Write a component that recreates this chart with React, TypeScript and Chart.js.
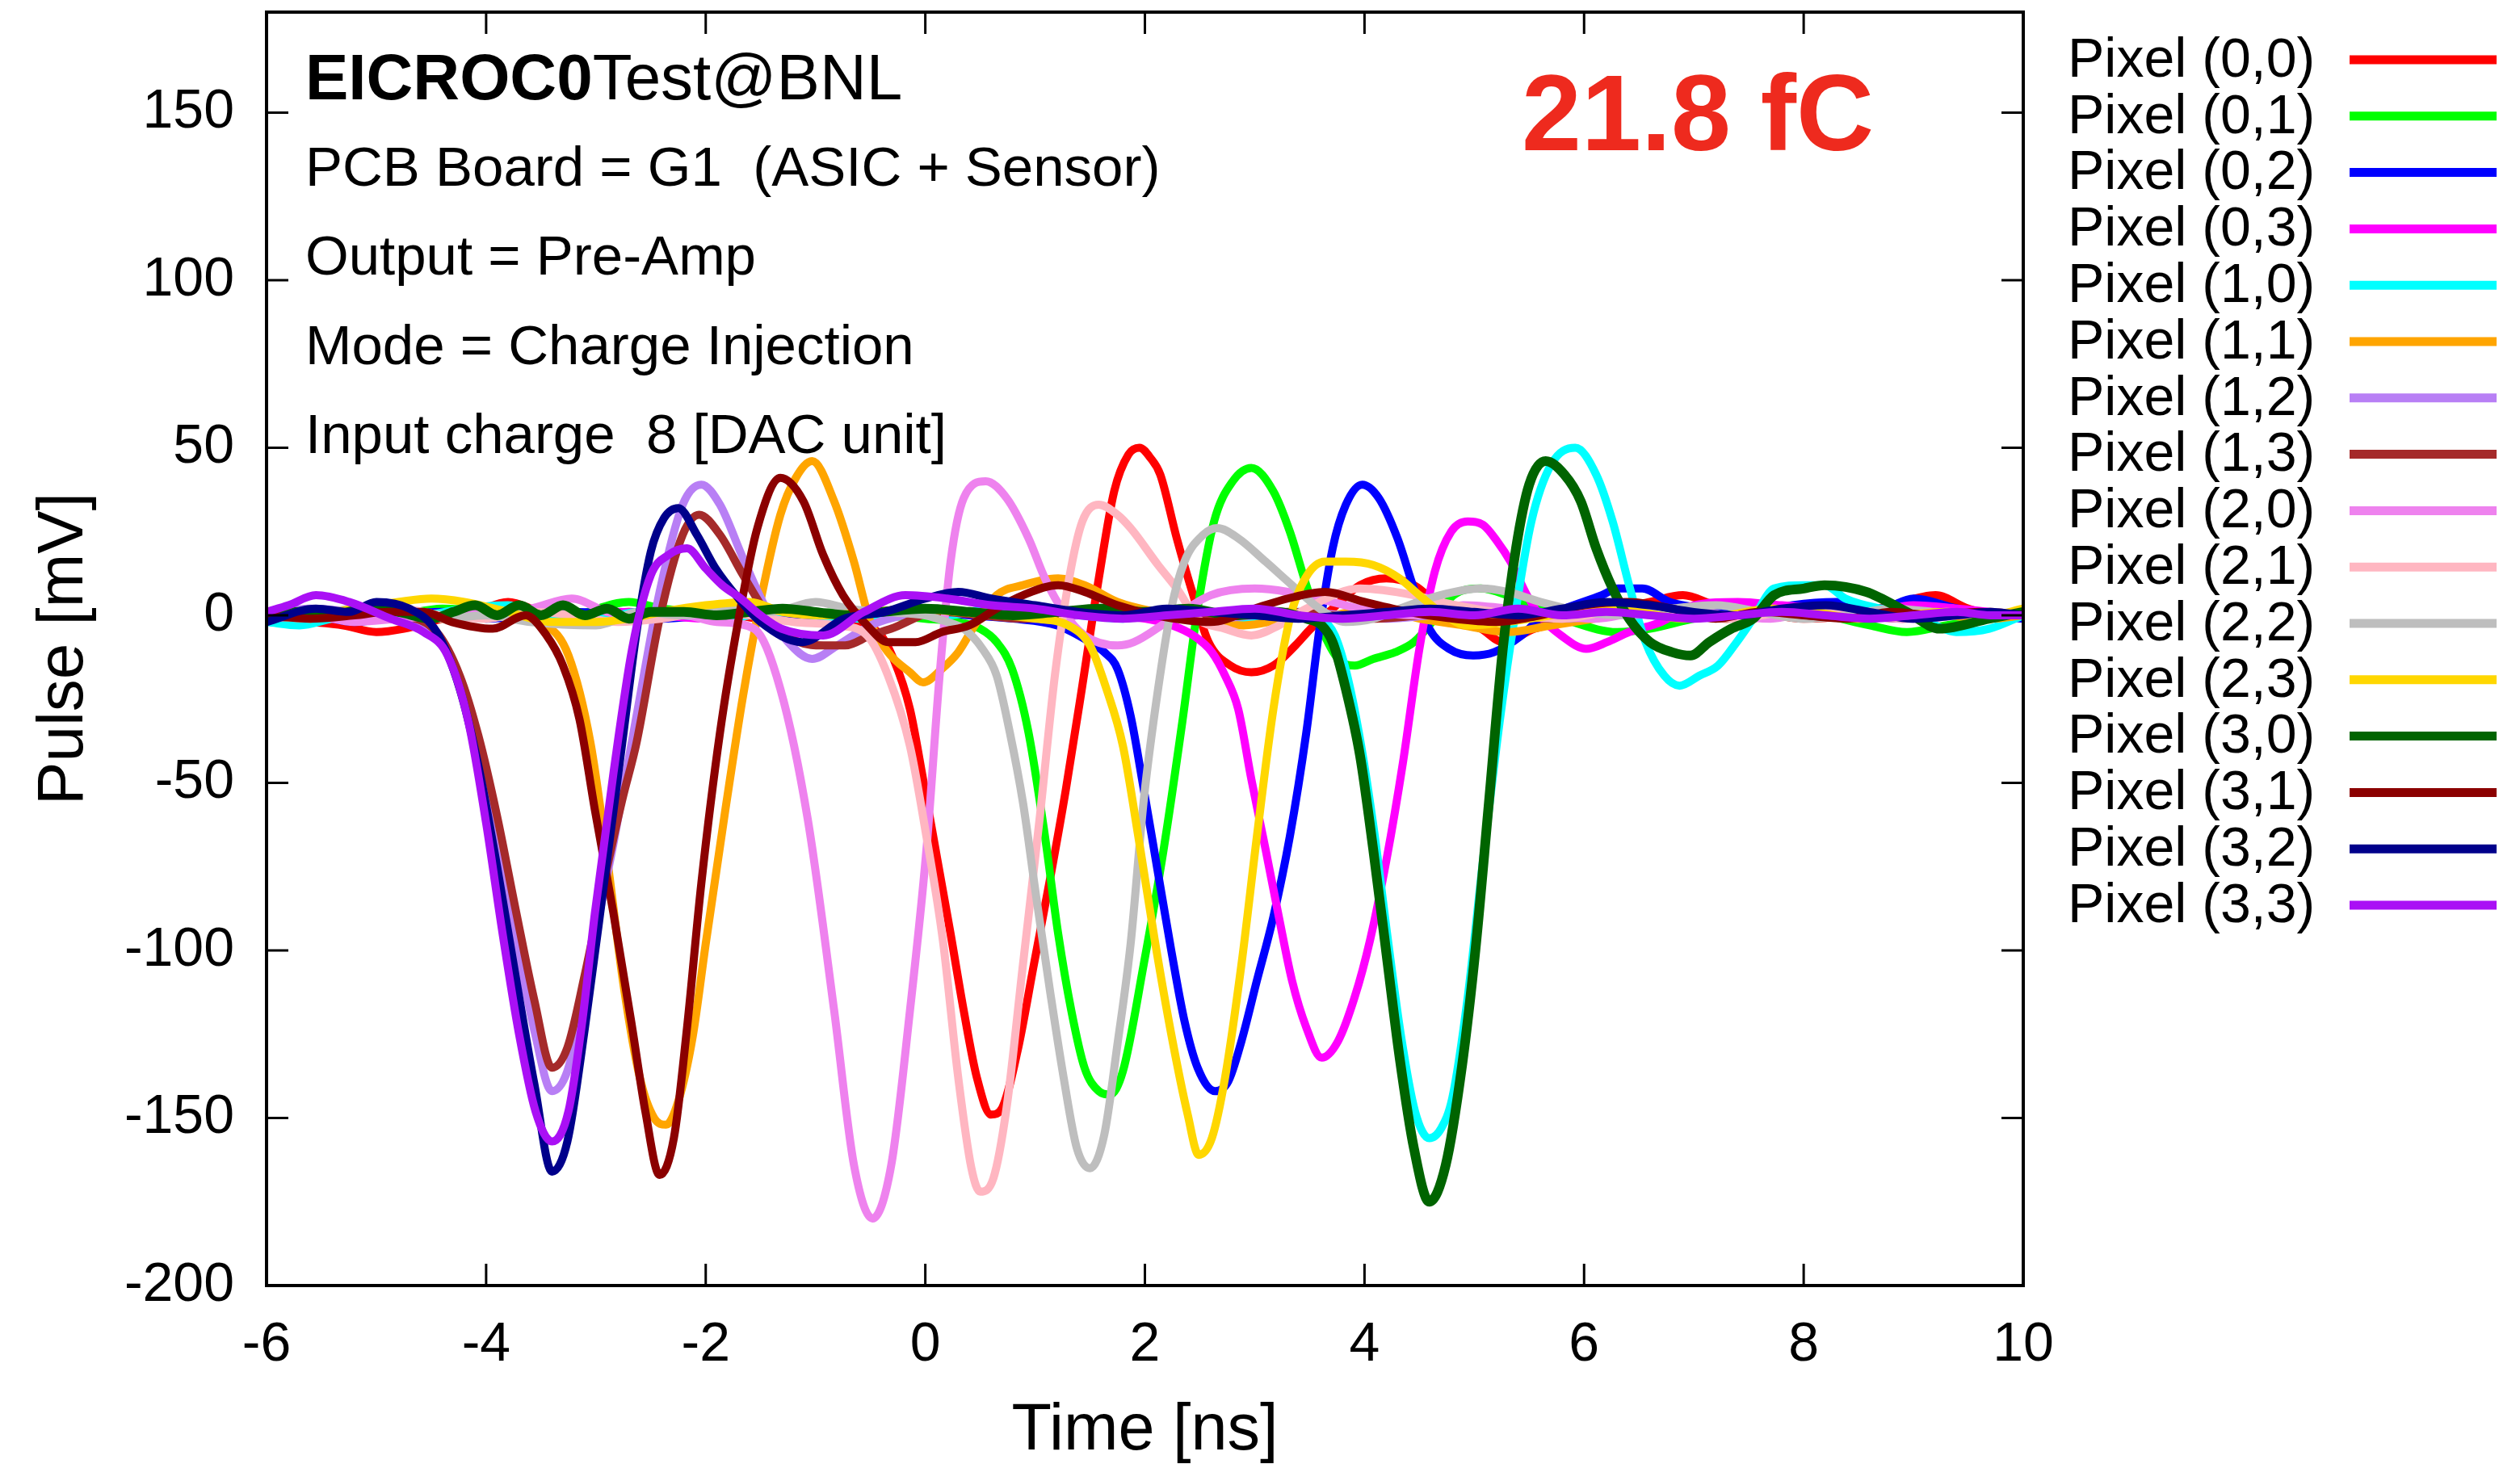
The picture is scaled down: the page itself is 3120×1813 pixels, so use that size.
import React, { useEffect, useRef } from 'react';
import { Chart, registerables } from 'chart.js';

Chart.register(...registerables);

const FONT = "'Liberation Sans', Arial, Helvetica, sans-serif";

// ---- Data -----------------------------------------------------------
const PIXEL_LABELS = [
  'Pixel (0,0)', 'Pixel (0,1)', 'Pixel (0,2)', 'Pixel (0,3)',
  'Pixel (1,0)', 'Pixel (1,1)', 'Pixel (1,2)', 'Pixel (1,3)',
  'Pixel (2,0)', 'Pixel (2,1)', 'Pixel (2,2)', 'Pixel (2,3)',
  'Pixel (3,0)', 'Pixel (3,1)', 'Pixel (3,2)', 'Pixel (3,3)',
];

const PIXEL_COLORS = [
  '#ff0000', '#00ff00', '#0000ff', '#ff00ff',
  '#00ffff', '#ffa500', '#b87ff5', '#a52a2a',
  '#ee82ee', '#ffb6c1', '#bebebe', '#ffd700',
  '#006400', '#8b0000', '#00008b', '#aa10f5',
];

const X_TICKS = [-6, -4, -2, 0, 2, 4, 6, 8, 10];
const Y_TICKS = [-200, -150, -100, -50, 0, 50, 100, 150];

// [time ns, pulse mV]
const P00 = [[-6,-1],[-5.6,-2],[-5.3,-3],[-5.0,-5],[-4.75,-4],[-4.4,-1],[-4.1,1],[-3.8,4],[-3.5,1],[-3.1,-1],[-2.7,1],[-2.3,0],[-1.9,1],[-1.5,-1],[-1.1,0],[-0.75,-2],[-0.43,-5],[-0.29,-13],[-0.14,-28],[-0.02,-49],[0.11,-73],[0.23,-95],[0.35,-118],[0.47,-138],[0.6,-149],[0.7,-147],[0.84,-130],[0.99,-104],[1.14,-78],[1.28,-52],[1.43,-21],[1.58,11],[1.72,37],[1.85,48],[1.95,50],[2.05,47],[2.14,42],[2.29,23],[2.44,6],[2.58,-8],[2.78,-15],[2.97,-17],[3.17,-15],[3.37,-9],[3.51,-4],[3.71,2],[3.96,9],[4.2,11],[4.45,9],[4.64,4],[4.81,-1],[5.06,-4],[5.26,-8],[5.55,-4],[5.92,-1],[6.3,2],[6.6,4],[6.9,6],[7.2,3],[7.6,1],[8.0,-1],[8.4,0],[8.8,3],[9.2,6],[9.5,2],[9.8,0],[10,1]];
const P01 = [[-6,0],[-5.6,1],[-5.2,-1],[-4.8,0],[-4.4,2],[-4.0,1],[-3.6,-1],[-3.2,0],[-2.7,4],[-2.4,2],[-2.0,1],[-1.6,0],[-1.2,-1],[-0.8,1],[-0.4,0],[0.0,-1],[0.3,-2],[0.5,-4],[0.65,-8],[0.79,-16],[0.94,-35],[1.09,-66],[1.21,-95],[1.33,-118],[1.45,-135],[1.58,-142],[1.68,-143],[1.8,-136],[1.99,-104],[2.17,-70],[2.34,-32],[2.48,2],[2.63,28],[2.8,40],[2.97,44],[3.17,37],[3.32,25],[3.47,9],[3.61,-4],[3.76,-13],[3.91,-15],[4.08,-13],[4.28,-11],[4.45,-8],[4.64,-1],[4.81,6],[5.06,8],[5.3,6],[5.6,2],[5.9,-2],[6.3,-5],[6.6,-4],[7.0,-1],[7.4,1],[7.8,2],[8.2,0],[8.6,-3],[8.94,-5],[9.3,-3],[9.7,-1],[10,0]];
const P02 = [[-6,-1],[-5.6,0],[-5.2,-2],[-4.8,0],[-4.4,1],[-4.0,-1],[-3.6,0],[-3.2,1],[-2.8,0],[-2.4,-1],[-2.0,0],[-1.6,1],[-1.2,0],[-0.8,-1],[-0.4,0],[0.0,1],[0.4,0],[0.8,-1],[1.2,-3],[1.5,-8],[1.63,-11],[1.75,-16],[1.87,-30],[1.99,-52],[2.12,-77],[2.24,-100],[2.36,-121],[2.48,-135],[2.64,-142],[2.76,-139],[2.88,-127],[3.02,-109],[3.17,-90],[3.32,-66],[3.47,-35],[3.59,-4],[3.71,20],[3.83,33],[3.98,39],[4.13,35],[4.3,23],[4.45,8],[4.59,-4],[4.77,-10],[4.99,-12],[5.18,-11],[5.43,-6],[5.6,-1],[5.82,2],[6.16,6],[6.31,8],[6.53,8],[6.78,4],[7.1,2],[7.5,0],[7.9,3],[8.3,4],[8.7,2],[9.0,5],[9.4,2],[9.7,0],[10,-1]];
const P03 = [[-6,0],[-5.6,1],[-5.2,0],[-4.8,-1],[-4.4,0],[-4.0,1],[-3.6,0],[-3.2,-1],[-2.8,1],[-2.4,0],[-2.0,-1],[-1.6,0],[-1.2,1],[-0.8,0],[-0.4,1],[0.0,2],[0.4,1],[0.8,0],[1.2,1],[1.6,0],[2.0,-1],[2.25,-3],[2.44,-6],[2.61,-11],[2.73,-18],[2.85,-28],[2.97,-49],[3.1,-70],[3.22,-90],[3.34,-109],[3.47,-123],[3.61,-132],[3.76,-127],[3.91,-114],[4.05,-97],[4.2,-73],[4.35,-44],[4.5,-10],[4.64,13],[4.79,25],[4.94,28],[5.08,27],[5.21,22],[5.33,16],[5.48,6],[5.62,-1],[5.79,-6],[6.02,-10],[6.21,-8],[6.41,-5],[6.7,-2],[7.0,3],[7.4,4],[7.8,3],[8.2,2],[8.6,1],[9.0,3],[9.4,2],[9.7,1],[10,0]];
const P10 = [[-6,-2],[-5.7,-3],[-5.4,-1],[-5.0,1],[-4.6,0],[-4.2,2],[-3.8,3],[-3.4,0],[-3.0,-1],[-2.6,1],[-2.2,0],[-1.8,-1],[-1.4,1],[-1.0,0],[-0.6,-1],[-0.2,1],[0.2,0],[0.6,2],[1.0,1],[1.4,0],[1.8,-1],[2.2,1],[2.6,0],[3.0,-1],[3.4,1],[3.6,-1],[3.73,-6],[3.85,-19],[3.97,-39],[4.09,-65],[4.21,-96],[4.33,-125],[4.46,-148],[4.59,-156],[4.7,-153],[4.8,-144],[4.94,-114],[5.08,-73],[5.23,-32],[5.38,2],[5.52,28],[5.7,45],[5.92,50],[6.11,42],[6.26,28],[6.41,9],[6.56,-8],[6.73,-18],[6.87,-21],[7.05,-18],[7.22,-15],[7.39,-8],[7.54,-1],[7.73,8],[8.0,9],[8.19,9],[8.38,5],[8.7,2],[8.94,1],[9.2,-3],[9.39,-5],[9.69,-4],[10,0]];
const P11 = [[-6,0],[-5.6,-1],[-5.2,1],[-4.8,0],[-4.4,-1],[-4.0,0],[-3.7,-1],[-3.45,-3],[-3.25,-12],[-3.05,-38],[-2.9,-72],[-2.75,-110],[-2.6,-138],[-2.47,-150],[-2.36,-152],[-2.25,-145],[-2.12,-126],[-2.0,-98],[-1.83,-60],[-1.66,-24],[-1.49,6],[-1.32,30],[-1.18,41],[-1.03,46],[-0.83,34],[-0.65,16],[-0.51,-1],[-0.34,-11],[-0.14,-17],[-0.02,-20],[0.15,-16],[0.3,-11],[0.45,-3],[0.65,6],[0.89,9],[1.21,11],[1.45,9],[1.75,4],[2.1,1],[2.5,-1],[2.9,-3],[3.3,-1],[3.7,0],[4.1,2],[4.5,-1],[4.9,-3],[5.3,-5],[5.7,-3],[6.1,-1],[6.5,1],[6.9,0],[7.3,-1],[7.7,1],[8.1,0],[8.5,-1],[8.9,1],[9.3,0],[9.7,-1],[10,0]];
const P12 = [[-6,0],[-5.6,2],[-5.2,1],[-4.8,-1],[-4.45,-6],[-4.24,-21],[-4.07,-40],[-3.9,-66],[-3.73,-96],[-3.56,-124],[-3.4,-142],[-3.26,-136],[-3.1,-113],[-2.95,-86],[-2.84,-68],[-2.63,-30],[-2.42,7],[-2.21,33],[-2.04,39],[-1.87,33],[-1.66,17],[-1.45,2],[-1.25,-8],[-1.03,-13],[-0.8,-9],[-0.5,-3],[-0.2,0],[0.2,1],[0.6,0],[1.0,-1],[1.4,0],[1.8,1],[2.2,0],[2.6,-1],[3.0,0],[3.4,1],[3.8,0],[4.2,-1],[4.6,0],[5.0,1],[5.4,0],[5.8,-1],[6.2,0],[6.6,1],[7.0,0],[7.4,-1],[7.8,0],[8.2,1],[8.6,0],[9.0,-1],[9.4,0],[9.7,1],[10,0]];
const P13 = [[-6,-1],[-5.6,0],[-5.2,1],[-4.8,0],[-4.45,-5],[-4.24,-18],[-4.07,-36],[-3.9,-60],[-3.73,-88],[-3.56,-115],[-3.4,-135],[-3.26,-129],[-3.1,-107],[-2.93,-80],[-2.76,-55],[-2.63,-38],[-2.42,-1],[-2.21,24],[-2.06,30],[-1.87,24],[-1.66,12],[-1.41,-1],[-1.15,-8],[-0.93,-9],[-0.73,-9],[-0.5,-6],[-0.31,-4],[0.11,1],[0.5,0],[0.9,-1],[1.3,0],[1.7,1],[2.1,0],[2.5,-1],[2.9,0],[3.3,1],[3.7,0],[4.1,-1],[4.5,0],[4.9,1],[5.3,0],[5.7,-1],[6.1,0],[6.5,1],[6.9,0],[7.3,-1],[7.7,0],[8.1,1],[8.5,0],[8.9,-1],[9.3,0],[9.7,1],[10,0]];
const P20 = [[-6,-1],[-5.6,0],[-5.2,-2],[-4.8,-1],[-4.4,0],[-4.0,1],[-3.6,2],[-3.22,5],[-2.9,1],[-2.6,-1],[-2.2,0],[-1.9,-2],[-1.56,-4],[-1.32,-22],[-1.07,-61],[-0.83,-118],[-0.65,-164],[-0.48,-180],[-0.31,-164],[-0.14,-118],[0.01,-70],[0.13,-18],[0.23,16],[0.35,35],[0.55,40],[0.74,35],[0.94,23],[1.09,11],[1.26,1],[1.45,-6],[1.75,-9],[1.9,-8],[2.2,-2],[2.6,6],[3.0,8],[3.3,7],[3.7,4],[4.1,1],[4.5,0],[4.9,3],[5.3,2],[5.7,0],[6.1,-1],[6.5,1],[6.9,2],[7.3,0],[7.7,-1],[8.1,1],[8.5,0],[8.9,-1],[9.3,1],[9.7,0],[10,1]];
const P21 = [[-6,0],[-5.6,-1],[-5.2,1],[-4.8,2],[-4.4,0],[-4.0,-1],[-3.6,1],[-3.2,0],[-2.8,-2],[-2.4,-1],[-2.0,1],[-1.6,0],[-1.2,-2],[-0.8,-3],[-0.53,-6],[-0.34,-18],[-0.14,-39],[0.01,-66],[0.16,-97],[0.3,-138],[0.42,-165],[0.5,-172],[0.62,-168],[0.74,-147],[0.89,-104],[1.04,-61],[1.18,-18],[1.31,11],[1.43,28],[1.58,33],[1.75,30],[1.87,26],[2.12,15],[2.29,8],[2.48,-1],[2.73,-4],[2.97,-6],[3.22,-3],[3.47,2],[3.96,8],[4.45,6],[4.69,4],[5.0,2],[5.4,0],[5.8,-1],[6.2,1],[6.6,2],[7.0,0],[7.4,-1],[7.8,1],[8.2,2],[8.6,0],[9.0,-1],[9.4,0],[9.7,1],[10,0]];
const P22 = [[-6,1],[-5.6,0],[-5.2,2],[-4.8,1],[-4.4,-1],[-4.0,0],[-3.6,-2],[-3.0,-3],[-2.6,1],[-2.2,0],[-1.8,2],[-1.4,1],[-1.0,4],[-0.7,2],[-0.4,1],[0.0,0],[0.2,-2],[0.35,-4],[0.52,-10],[0.65,-18],[0.77,-35],[0.89,-56],[1.01,-84],[1.14,-113],[1.26,-138],[1.38,-159],[1.5,-165],[1.63,-155],[1.75,-128],[1.87,-98],[1.99,-55],[2.12,-22],[2.24,2],[2.36,16],[2.53,24],[2.66,26],[2.85,23],[3.1,16],[3.34,9],[3.59,2],[3.83,-2],[4.08,-1],[4.32,2],[4.69,6],[5.06,8],[5.3,7],[5.6,4],[6.0,1],[6.4,0],[6.8,2],[7.2,3],[7.6,1],[8.0,-1],[8.4,0],[8.8,2],[9.2,1],[9.6,0],[10,1]];
const P23 = [[-6,1],[-5.6,0],[-5.2,2],[-4.8,4],[-4.5,5],[-4.2,4],[-3.8,1],[-3.4,-2],[-3.0,-2],[-2.7,-1],[-2.4,1],[-2.0,3],[-1.6,4],[-1.3,1],[-0.9,0],[-0.5,1],[-0.1,2],[0.3,1],[0.7,0],[1.0,-1],[1.3,-3],[1.5,-9],[1.65,-22],[1.8,-39],[1.94,-66],[2.09,-97],[2.24,-125],[2.39,-149],[2.49,-161],[2.61,-156],[2.73,-138],[2.88,-104],[3.02,-66],[3.17,-28],[3.32,-1],[3.46,11],[3.64,16],[3.83,16],[4.08,15],[4.32,11],[4.5,6],[4.69,1],[4.94,-3],[5.3,-2],[5.7,0],[6.1,2],[6.5,1],[6.9,-1],[7.3,0],[7.7,2],[8.1,1],[8.5,-1],[8.9,0],[9.3,1],[9.7,0],[10,2]];
const P30 = [[-6,-1],[-5.7,1],[-5.4,0],[-5.1,2],[-4.8,1],[-4.5,-1],[-4.3,1],[-4.1,3],[-3.9,0],[-3.7,3],[-3.5,0],[-3.3,3],[-3.1,0],[-2.9,2],[-2.7,-1],[-2.5,1],[-2.2,1],[-1.9,0],[-1.6,1],[-1.3,2],[-1.0,1],[-0.7,0],[-0.4,1],[0.0,2],[0.4,1],[0.8,0],[1.2,1],[1.6,2],[2.0,1],[2.4,2],[2.8,0],[3.2,1],[3.47,-1],[3.61,-3],[3.71,-8],[3.83,-22],[3.96,-42],[4.08,-70],[4.2,-101],[4.32,-132],[4.45,-159],[4.59,-175],[4.74,-164],[4.89,-134],[5.01,-100],[5.13,-57],[5.26,-10],[5.38,20],[5.5,39],[5.65,46],[5.82,42],[5.97,34],[6.11,20],[6.26,8],[6.41,-1],[6.6,-8],[6.8,-11],[6.97,-12],[7.14,-8],[7.34,-4],[7.54,-1],[7.73,6],[8.0,8],[8.19,9],[8.57,7],[8.94,1],[9.24,-4],[9.69,-1],[10,1]];
const P31 = [[-6,0],[-5.6,-1],[-5.2,0],[-4.9,1],[-4.57,1],[-4.31,-2],[-3.94,-4],[-3.64,0],[-3.45,-6],[-3.3,-15],[-3.15,-31],[-3.01,-58],[-2.84,-89],[-2.67,-123],[-2.55,-148],[-2.42,-167],[-2.29,-156],[-2.17,-123],[-2.04,-80],[-1.87,-35],[-1.7,-1],[-1.53,26],[-1.32,41],[-1.11,34],[-0.93,18],[-0.75,6],[-0.53,-3],[-0.34,-8],[-0.09,-8],[0.15,-5],[0.4,-3],[0.65,2],[0.89,6],[1.21,9],[1.45,7],[1.75,3],[2.1,0],[2.6,-2],[3.0,2],[3.3,5],[3.64,7],[4.0,4],[4.4,1],[4.8,-1],[5.2,-2],[5.6,0],[6.0,3],[6.4,4],[6.8,2],[7.2,-1],[7.6,1],[8.0,0],[8.4,-1],[8.8,1],[9.2,0],[9.6,1],[10,0]];
const P32 = [[-6,-2],[-5.55,2],[-5.25,1],[-5.0,4],[-4.7,2],[-4.45,-5],[-4.24,-22],[-4.07,-45],[-3.9,-75],[-3.73,-108],[-3.56,-140],[-3.4,-166],[-3.26,-157],[-3.1,-123],[-2.93,-81],[-2.76,-38],[-2.63,-5],[-2.5,19],[-2.38,29],[-2.25,32],[-2.08,24],[-1.91,14],[-1.7,5],[-1.5,-2],[-1.12,-8],[-0.74,-1],[-0.37,1],[0.0,5],[0.3,7],[0.6,5],[1.0,3],[1.4,1],[1.8,0],[2.2,2],[2.6,1],[3.0,0],[3.4,-1],[3.8,0],[4.2,1],[4.6,2],[5.0,1],[5.4,0],[5.8,2],[6.2,4],[6.6,3],[7.0,1],[7.4,0],[7.8,2],[8.2,3],[8.6,1],[9.0,-1],[9.4,0],[9.7,1],[10,0]];
const P33 = [[-6,1],[-5.8,3],[-5.55,6],[-5.25,4],[-4.87,-1],[-4.57,-5],[-4.35,-12],[-4.16,-32],[-4.0,-62],[-3.85,-95],[-3.7,-125],[-3.55,-148],[-3.4,-157],[-3.25,-148],[-3.12,-120],[-3.01,-89],[-2.84,-47],[-2.67,-10],[-2.5,12],[-2.34,18],[-2.17,20],[-2.0,14],[-1.85,9],[-1.68,5],[-1.5,0],[-1.31,-4],[-0.93,-6],[-0.56,1],[-0.18,6],[0.2,5],[0.6,3],[1.0,2],[1.4,0],[1.8,-1],[2.2,0],[2.6,1],[3.0,2],[3.4,0],[3.8,-1],[4.2,0],[4.6,1],[5.0,0],[5.4,2],[5.8,0],[6.2,1],[6.6,0],[7.0,-1],[7.4,0],[7.8,1],[8.2,0],[8.6,-1],[9.0,0],[9.4,1],[9.7,0],[10,0]];

const SERIES = [P00, P01, P02, P03, P10, P11, P12, P13, P20, P21, P22, P23, P30, P31, P32, P33];

const INFO_TITLE_BOLD = 'EICROC0';
const INFO_TITLE_REST = 'Test@BNL';
const INFO_LINES = [
  'PCB Board = G1  (ASIC + Sensor)',
  'Output = Pre-Amp',
  'Mode = Charge Injection',
  'Input charge  8 [DAC unit]',
];
const CHARGE_LABEL = '21.8 fC';

// ---- Plugins ---------------------------------------------------------
const framePlugin = {
  id: 'frameTicks',
  afterDatasetsDraw(chart: any) {
    const { ctx, chartArea: a, scales } = chart;
    const xs = scales.x;
    const ys = scales.y;
    const TL = 27;
    ctx.save();
    ctx.strokeStyle = '#000';
    ctx.lineWidth = 3;
    ctx.beginPath();
    xs.ticks.forEach((t: any) => {
      const px = xs.getPixelForValue(t.value);
      ctx.moveTo(px, a.bottom);
      ctx.lineTo(px, a.bottom - TL);
      ctx.moveTo(px, a.top);
      ctx.lineTo(px, a.top + TL);
    });
    ys.ticks.forEach((t: any) => {
      const py = ys.getPixelForValue(t.value);
      ctx.moveTo(a.left, py);
      ctx.lineTo(a.left + TL, py);
      ctx.moveTo(a.right, py);
      ctx.lineTo(a.right - TL, py);
    });
    ctx.stroke();
    ctx.lineWidth = 4;
    ctx.strokeRect(a.left, a.top, a.right - a.left, a.bottom - a.top);
    ctx.restore();
  },
};

const textPlugin = {
  id: 'infoAndLegend',
  afterDraw(chart: any) {
    const { ctx, chartArea: a } = chart;
    ctx.save();
    ctx.fillStyle = '#000';
    ctx.textBaseline = 'alphabetic';
    ctx.textAlign = 'left';
    const x0 = a.left + 48;
    ctx.font = `bold 80px ${FONT}`;
    ctx.fillText(INFO_TITLE_BOLD, x0, a.top + 108);
    const w = ctx.measureText(INFO_TITLE_BOLD).width;
    ctx.font = `80px ${FONT}`;
    ctx.fillText(INFO_TITLE_REST, x0 + w, a.top + 108);
    ctx.font = `69px ${FONT}`;
    INFO_LINES.forEach((line, i) => {
      ctx.fillText(line, x0, a.top + 215 + i * 110.4);
    });
    ctx.fillStyle = '#ee2a1e';
    ctx.font = `bold 133px ${FONT}`;
    ctx.fillText(CHARGE_LABEL, 1884, a.top + 171);

    // legend: label then line sample, gnuplot style
    ctx.font = `68px ${FONT}`;
    ctx.textBaseline = 'middle';
    chart.data.datasets.forEach((ds: any, i: number) => {
      const y = 74 + i * 69.8;
      ctx.fillStyle = '#000';
      ctx.fillText(ds.label, 2560, y + 2);
      ctx.strokeStyle = ds.borderColor;
      ctx.lineWidth = 11;
      ctx.lineCap = 'butt';
      ctx.beginPath();
      ctx.moveTo(2909, y);
      ctx.lineTo(3091, y);
      ctx.stroke();
    });
    ctx.restore();
  },
};

const zeroPad = (s: any) => {
  s.paddingTop = 0;
  s.paddingBottom = 0;
  s.paddingLeft = 0;
  s.paddingRight = 0;
};

export default function App() {
  const ref = useRef<HTMLCanvasElement>(null);

  useEffect(() => {
    document.body.style.margin = '0';
    const canvas = ref.current;
    if (!canvas) return;
    const datasets = SERIES.map((pts, i) => ({
      label: PIXEL_LABELS[i],
      data: pts.map(([x, y]) => ({ x, y })),
      borderColor: PIXEL_COLORS[i],
      backgroundColor: PIXEL_COLORS[i],
      borderWidth: i === 12 ? 12 : 10,
      pointRadius: 0,
      cubicInterpolationMode: 'monotone' as const,
      borderJoinStyle: 'round' as const,
      borderCapStyle: 'round' as const,
      fill: false,
      order: SERIES.length - 1 - i,
    }));

    const chart = new Chart(canvas, {
      type: 'line',
      data: { datasets },
      options: {
        animation: false,
        responsive: false,
        devicePixelRatio: 1,
        events: [],
        layout: { padding: { left: 0, right: 615, top: 15, bottom: 0 } },
        plugins: {
          legend: { display: false },
          tooltip: { enabled: false },
          title: { display: false },
        },
        scales: {
          x: {
            type: 'linear',
            min: X_TICKS[0],
            max: X_TICKS[X_TICKS.length - 1],
            afterFit: (s: any) => { s.height = 221; zeroPad(s); },
            afterBuildTicks: (s: any) => { s.ticks = X_TICKS.map((v) => ({ value: v })); },
            grid: { display: false, drawTicks: false },
            border: { display: false },
            ticks: {
              padding: 33,
              color: '#000',
              font: { family: FONT, size: 68 },
              maxRotation: 0,
              autoSkip: false,
              callback: (v: any) => String(v),
            },
            title: {
              display: true,
              text: 'Time [ns]',
              color: '#000',
              font: { family: FONT, size: 81, lineHeight: 1 },
              padding: { top: 0, bottom: 0 },
            },
          },
          y: {
            type: 'linear',
            min: -200,
            max: 180,
            afterFit: (s: any) => { s.width = 330; zeroPad(s); },
            afterBuildTicks: (s: any) => { s.ticks = Y_TICKS.map((v) => ({ value: v })); },
            grid: { display: false, drawTicks: false },
            border: { display: false },
            ticks: {
              padding: 40,
              color: '#000',
              font: { family: FONT, size: 68 },
              autoSkip: false,
              callback: (v: any) => String(v),
            },
            title: {
              display: true,
              text: 'Pulse [mV]',
              color: '#000',
              font: { family: FONT, size: 80, lineHeight: 1 },
              padding: { top: 40, bottom: 0 },
            },
          },
        },
      },
      plugins: [framePlugin, textPlugin],
    });
    return () => chart.destroy();
  }, []);

  return (
    <div style={{ position: 'absolute', left: 0, top: 0, width: 3120, height: 1813, background: '#fff' }}>
      <canvas ref={ref} width={3120} height={1813} style={{ display: 'block', width: 3120, height: 1813 }} />
    </div>
  );
}
